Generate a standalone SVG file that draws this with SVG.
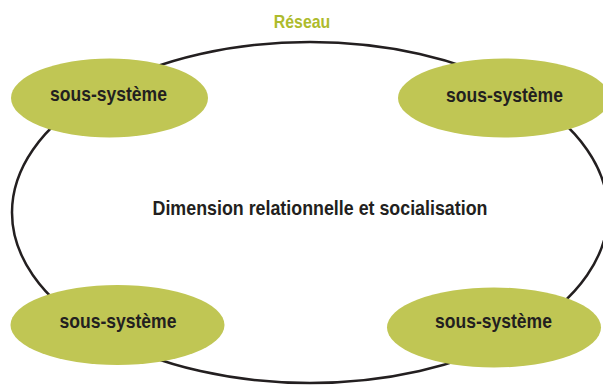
<svg xmlns="http://www.w3.org/2000/svg" width="603" height="385" viewBox="0 0 603 385">
  <style>
    .label { font-family: "Liberation Sans", Arial, sans-serif; font-weight: bold; font-size: 21px; fill: #231f20; text-anchor: middle; }
    .sub { fill: #c0c654; }
    .net { fill: none; stroke: #231f20; stroke-width: 2.5; }
    .title { font-family: "Liberation Sans", Arial, sans-serif; font-weight: bold; font-size: 18px; fill: #adbb2c; text-anchor: middle; }
  </style>
  <rect width="603" height="385" fill="#ffffff"/>

  <!-- network boundary -->
  <g id="connectors">
    <ellipse class="net" cx="310" cy="212.5" rx="298" ry="170.5"/>
  </g>

  <g id="title">
    <text class="title" transform="translate(302 27.5) scale(0.88 1)">Réseau</text>
  </g>

  <g id="center">
    <text class="label" transform="translate(320 215) scale(0.85 1)">Dimension relationnelle et socialisation</text>
  </g>

  <g id="sub-top-left">
    <ellipse class="sub" cx="109.5" cy="98" rx="98.5" ry="39.5"/>
    <text class="label" transform="translate(108.5 101) scale(0.835 1)">sous-système</text>
  </g>

  <g id="sub-top-right">
    <ellipse class="sub" cx="504" cy="98" rx="106" ry="39.5"/>
    <text class="label" transform="translate(504.5 101.5) scale(0.835 1)">sous-système</text>
  </g>

  <g id="sub-bottom-left">
    <ellipse class="sub" cx="117.5" cy="325" rx="107" ry="40"/>
    <text class="label" transform="translate(118 327.5) scale(0.835 1)">sous-système</text>
  </g>

  <g id="sub-bottom-right">
    <ellipse class="sub" cx="494" cy="327.5" rx="107" ry="40"/>
    <text class="label" transform="translate(493.5 328) scale(0.835 1)">sous-système</text>
  </g>
</svg>
